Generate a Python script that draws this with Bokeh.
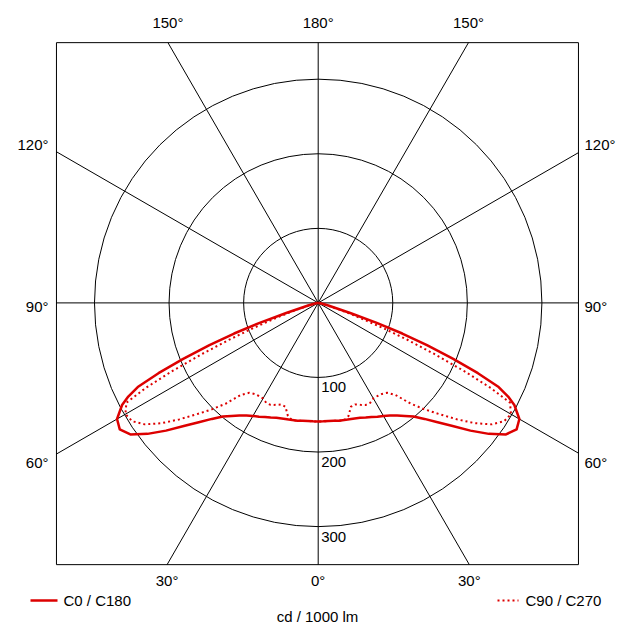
import numpy as np
from bokeh.plotting import figure
from bokeh.models import Range1d, Label
from bokeh.embed import file_html
from bokeh.resources import INLINE

# ---------------- data ----------------
gamma_deg = [0, 2.5, 5, 7.5, 10, 12.5, 15, 17.5, 20, 22.5, 25, 27.5, 30, 32.5,
             35, 37.5, 40, 42.5, 45, 47.5, 50, 52.5, 55, 57.5, 60, 62.5, 63.75, 65,
             66.25, 67.5, 68.75, 70, 71.25, 72.5, 75, 77.5, 80, 85, 90]
# luminous intensity, cd / 1000 lm
intensity_c0_c180 = [159, 159, 159, 159.5, 160.5, 161, 161.5, 162.5, 164, 166.5,
                     169, 172, 175, 179, 184.5, 191, 199, 211, 226.5, 244.5,
                     266.5, 288.5, 307.5, 315.5, 311.5, 296.5, 284, 267,
                     234, 196, 156.5, 120, 82, 45, 15, 7, 4, 1.5, 0]
intensity_c90_c270 = [159, 159, 159, 159.5, 160.5, 161, 157, 146, 145, 148,
                      151, 151, 148, 148, 149, 152, 161, 183, 202, 221,
                      243, 265, 284, 295.5, 298.5, 290, 258, 215,
                      170, 130, 95, 65, 45, 28, 12, 6, 3, 1, 0]
series_names = ["C0 / C180", "C90 / C270"]
circle_values = [100, 200, 300]
circle_labels = ["100", "200", "300"]
radial_angles = [0, 30, 60, 90, 120, 150]
top_labels = ["150°", "180°", "150°"]
bottom_labels = ["30°", "0°", "30°"]
side_labels = ["120°", "90°", "60°"]
unit_label = "cd / 1000 lm"

RED = "#dd0000"
FONT = "Liberation Sans"
FS = "15px"

W, H = 632, 639
CX, CY = 317.7, 302.4          # pole position on the page (px)
S = 522.0 / 700.0               # px per cd
BOX_L, BOX_R, BOX_T, BOX_B = -351.0, 349.0, 349.0, -351.0

p = figure(width=W, height=H, output_backend="svg", toolbar_location=None,
           x_range=Range1d(-CX / S, (W - CX) / S), y_range=Range1d(-(H - CY) / S, CY / S),
           x_axis_location=None, y_axis_location=None,
           min_border=0, min_border_left=0, min_border_right=0,
           min_border_top=0, min_border_bottom=0)
p.grid.visible = False
p.outline_line_color = None
p.background_fill_color = "white"
p.border_fill_color = "white"

# frame box
p.quad(left=[BOX_L], right=[BOX_R], top=[BOX_T], bottom=[BOX_B],
       fill_color=None, line_color="black", line_width=1)


def clip_t(dx, dy):
    ts = []
    if dx > 1e-9:
        ts.append(BOX_R / dx)
    elif dx < -1e-9:
        ts.append(BOX_L / dx)
    if dy > 1e-9:
        ts.append(BOX_T / dy)
    elif dy < -1e-9:
        ts.append(BOX_B / dy)
    return min(ts)


# radial lines
x0s, y0s, x1s, y1s = [], [], [], []
for a in radial_angles:
    t = np.radians(a)
    dx, dy = np.sin(t), -np.cos(t)
    tp = clip_t(dx, dy)
    tn = clip_t(-dx, -dy)
    x0s.append(-tn * dx); y0s.append(-tn * dy)
    x1s.append(tp * dx); y1s.append(tp * dy)
p.segment(x0=x0s, y0=y0s, x1=x1s, y1=y1s, line_color="black", line_width=1)

# circles
p.circle(x=[0] * len(circle_values), y=[0] * len(circle_values), radius=circle_values,
         fill_color=None, line_color="black", line_width=1)


def curve(vals):
    g = np.radians(np.array(gamma_deg))
    v = np.array(vals, dtype=float)
    xl = -(v * np.sin(g))[::-1]
    yl = -(v * np.cos(g))[::-1]
    xr = v * np.sin(g)
    yr = -v * np.cos(g)
    return np.concatenate([xl, xr[1:]]), np.concatenate([yl, yr[1:]])


x2, y2 = curve(intensity_c90_c270)
p.line(x2, y2, line_color=RED, line_width=2, line_dash="2 3", line_join="round")
x1, y1 = curve(intensity_c0_c180)
p.line(x1, y1, line_color=RED, line_width=2.5, line_join="round")


def dx_(px):
    return (px - CX) / S


def dy_(py):
    return (CY - py) / S


def lab(txt, x, y, align="center"):
    p.add_layout(Label(x=x, y=y, text=txt, text_align=align, text_baseline="middle",
                       text_font=FONT, text_font_size=FS, text_color="black"))


# top / bottom angle labels
for txt, a, s in zip(top_labels, [150, 180, 150], [-1, 0, 1]):
    lab(txt, s * BOX_T * np.tan(np.radians(180 - a)), dy_(22))
for txt, a, s in zip(bottom_labels, [30, 0, 30], [-1, 0, 1]):
    lab(txt, s * (-BOX_B) * np.tan(np.radians(a)), dy_(580))
# side labels
for txt, py in zip(side_labels, [144, 306, 462]):
    lab(txt, dx_(48), dy_(py), "right")
    lab(txt, dx_(584), dy_(py), "left")
# circle labels
for txt, r in zip(circle_labels, circle_values):
    lab(txt, 4, -(r + 13.3), "left")

# legend
leg_y = dy_(600)
p.line([dx_(30), dx_(57)], [leg_y, leg_y], line_color=RED, line_width=2.5)
lab(series_names[0], dx_(63), leg_y, "left")
p.line([dx_(497), dx_(518)], [leg_y, leg_y], line_color=RED, line_width=2, line_dash="2 3")
lab(series_names[1], dx_(525), leg_y, "left")
lab(unit_label, dx_(317), dy_(616))

open("out.html", "w").write(file_html(p, INLINE))
